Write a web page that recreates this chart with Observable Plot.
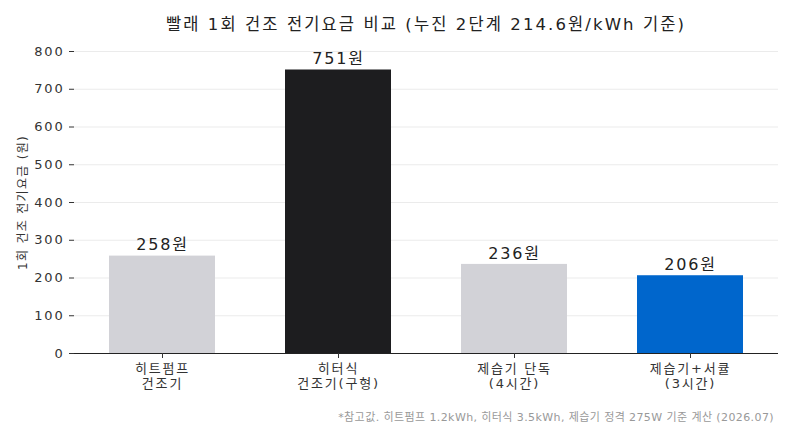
<!DOCTYPE html>
<html><head><meta charset="utf-8">
<script src="https://cdn.jsdelivr.net/npm/d3@7"></script>
<script src="https://cdn.jsdelivr.net/npm/@observablehq/plot@0.6"></script>
<style>
body{margin:0;background:#fff;font-family:"DejaVu Sans","Noto Sans CJK KR",sans-serif;width:790px;height:433px;position:relative;overflow:hidden}
#title{position:absolute;top:11px;left:74px;width:704px;text-align:center;font-size:16.5px;letter-spacing:2.1px;color:#222}
#chart{position:absolute;top:40px;left:0}
#cap{position:absolute;top:408px;right:16px;font-size:11px;letter-spacing:0.4px;color:#999}
</style></head><body>
<div id="title">빨래 1회 건조 전기요금 비교 (누진 2단계 214.6원/kWh 기준)</div>
<div id="chart"></div>
<div id="cap">*참고값. 히트펌프 1.2kWh, 히터식 3.5kWh, 제습기 정격 275W 기준 계산 (2026.07)</div>
<script>
const categories = ["히트펌프\n건조기", "히터식\n건조기(구형)", "제습기 단독\n(4시간)", "제습기+서큘\n(3시간)"];
const costs = [258, 751, 236, 206];
const colors = ["#d2d2d7", "#1d1d1f", "#d2d2d7", "#0066cc"];
const yTicks = [0,100,200,300,400,500,600,700,800];

const data = categories.map((c,i)=>({cat:c, cost:costs[i], color:colors[i]}));

const chart = Plot.plot({
  width: 790, height: 360,
  marginLeft: 74, marginRight: 12, marginTop: 11, marginBottom: 47,
  style: {fontFamily: '"DejaVu Sans","Noto Sans CJK KR",sans-serif', fontSize: "13px", color: "#333", background: "#fff", letterSpacing: "1.8px"},
  x: {domain: categories, paddingInner: 0.4, paddingOuter: 0.2, label: null},
  y: {domain: [0, 800], label: null},
  marks: [
    Plot.gridY(yTicks, {stroke: "#ebebeb", strokeOpacity: 1}),
    Plot.ruleX([0], {frameAnchor: "left", stroke: "#ebebeb"}),
    Plot.barY(data, {x: "cat", y: "cost", fill: "color"}),
    Plot.text(data, {x: "cat", y: "cost", text: d => d.cost + "원", dy: -11, fontSize: 16, fill: "#222"}),
    Plot.ruleY([0], {stroke: "#222", strokeWidth: 1}),
    Plot.axisY(yTicks, {tickSize: 5, tickPadding: 5, fontSize: 13, fill: "#333", stroke:"#333", label: "1회 건조 전기요금 (원)", labelAnchor: "center", labelArrow: "none", labelOffset: 56}),
    Plot.axisX({tickSize: 5, tickPadding: 4, fontSize: 13, fill: "#333", stroke:"#333", lineHeight: 1.15})
  ]
});
chart.querySelectorAll('[aria-label="y-axis label"] text, [aria-label="y-axis label"]').forEach(el => {
  el.style.fontSize = "12px";
  el.style.letterSpacing = "1.3px";
});
document.getElementById("chart").appendChild(chart);
</script>
</body></html>
